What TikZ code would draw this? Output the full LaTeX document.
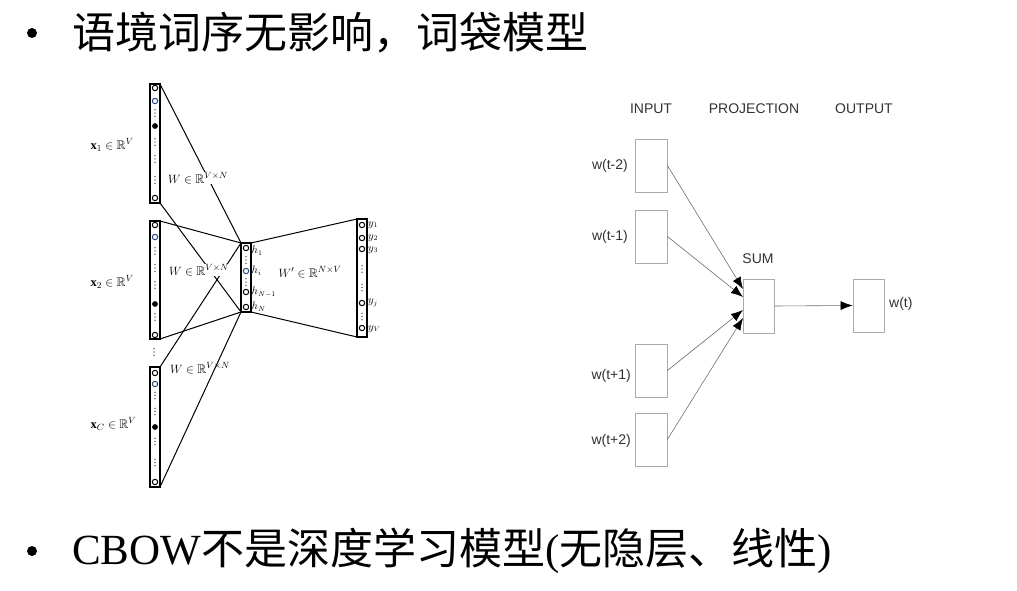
\documentclass[tikz,border=0pt]{standalone}
\usepackage{amsmath,amssymb}
\usepackage{fontspec}
\setmainfont{Liberation Serif}
\newfontfamily\cjk{Noto Sans CJK SC}
\newfontfamily\arialf{Liberation Sans}
\usetikzlibrary{arrows.meta}
\definecolor{nblue}{RGB}{40,70,130}
\definecolor{boxgray}{RGB}{170,170,170}
\definecolor{linegray}{RGB}{110,110,110}
\definecolor{txtgray}{RGB}{50,50,50}
\newcommand{\mydots}[2]{\fill (#1,#2-3.3) circle (0.65) (#1,#2) circle (0.65) (#1,#2+3.3) circle (0.65);}
\tikzset{
  col/.style={draw=black, line width=1.4pt, minimum width=10pt, inner sep=0pt, outer sep=0pt},
  mlab/.style={font=\fontsize{12.5}{14}\selectfont, inner sep=0.5pt},
  slab/.style={font=\fontsize{10.5}{12}\selectfont, inner sep=0pt, anchor=west},
  conn/.style={line width=1pt, black},
  wbox/.style={draw=boxgray, line width=0.8pt, minimum width=32pt, minimum height=53pt, inner sep=0pt},
  rtxt/.style={font=\arialf\fontsize{14}{16}\selectfont, text=txtgray, inner sep=0pt},
  garr/.style={draw=linegray, line width=0.6pt, -{Latex[length=12pt,width=9pt,color=black]}},
  big/.style={font=\fontsize{43}{50}\selectfont, inner sep=0pt, anchor=west}
}
\begin{document}
\begin{tikzpicture}[x=1pt,y=-1pt]
\useasboundingbox (0,0) rectangle (1017,591);
% title
\fill (32,33) circle (5);
\node[big] (title) at (72,33) {\cjk 语境词序无影响，词袋模型};
\fill (32,551) circle (5);
\node[big] (bottom) at (72,551) {CBOW{\cjk 不是深度学习模型}({\cjk 无隐层、线性})};

% ---------- left diagram ----------
\node[col, minimum height=119pt] (x1) at (155,143.5) {};
\node[col, minimum height=118pt] (x2) at (155,280) {};
\node[col, minimum height=120pt] (xC) at (155,427) {};
\node[col, minimum height=69pt] (h) at (246,277.5) {};
\node[col, minimum height=118pt] (y) at (362,278) {};

\draw[conn] (x1.north east) -- (h.north west);
\draw[conn] (x1.south east) -- (h.south west);
\draw[conn] (x2.north east) -- (h.north west);
\draw[conn] (x2.south east) -- (h.south west);
\draw[conn] (xC.north east) -- (h.north west);
\draw[conn] (xC.south east) -- (h.south west);
\draw[conn] (h.north east) -- (y.north west);
\draw[conn] (h.south east) -- (y.south west);

\begin{scope}[line width=1pt]
% x1
\draw (155,88) circle (2.7);
\draw[nblue] (155,101) circle (2.7);
\fill (155,126) circle (2.9);
\draw (155,198) circle (2.7);
\mydots{155}{113}\mydots{155}{142}\mydots{155}{159}\mydots{155}{180}
% x2
\draw (155,225) circle (2.7);
\draw[nblue] (155,237) circle (2.7);
\fill (155,304) circle (2.9);
\draw (155,335) circle (2.7);
\mydots{155}{251}\mydots{155}{268}\mydots{155}{285}\mydots{155}{317}
% xC
\draw (155,373) circle (2.7);
\draw[nblue] (155,384) circle (2.7);
\fill (155,427) circle (2.9);
\draw (155,482) circle (2.7);
\mydots{155}{395.5}\mydots{155}{411.5}\mydots{155}{441.5}\mydots{155}{462.5}
% between x2 and xC
\mydots{154}{352}
% hidden
\draw (246,248) circle (2.7);
\draw[nblue] (246,271) circle (2.7);
\draw (246,292) circle (2.7);
\draw (246,307) circle (2.7);
\mydots{246}{260}\mydots{246}{282}
% output
\draw (362,225) circle (2.7);
\draw (362,238) circle (2.7);
\draw (362,249) circle (2.7);
\draw (362,303) circle (2.7);
\draw (362,328) circle (2.7);
\mydots{362}{269}\mydots{362}{287.5}\mydots{362}{316.5}
\end{scope}

% labels
\node[mlab, anchor=west] (lx1) at (90,145) {$\mathbf{x}_1\in\mathbb{R}^V$};
\node[mlab, anchor=west] (lx2) at (90,282) {$\mathbf{x}_2\in\mathbb{R}^V$};
\node[mlab, anchor=west] (lxC) at (90,424) {$\mathbf{x}_C\in\mathbb{R}^V$};
\node[mlab, fill=white] (w1) at (198,178) {$W\in\mathbb{R}^{V\times N}$};
\node[mlab, fill=white] (w2) at (199,270) {$W\in\mathbb{R}^{V\times N}$};
\node[mlab] (w3) at (200,368) {$W\in\mathbb{R}^{V\times N}$};
\node[mlab] (wp) at (310,272) {$W'\in\mathbb{R}^{N\times V}$};
\node[slab] (h1) at (251.5,251) {$h_1$};
\node[slab] (hi) at (251.5,271) {$h_i$};
\node[slab] (hN1) at (251.5,292) {$h_{N-1}$};
\node[slab] (hN) at (251.5,307) {$h_N$};
\node[slab] (y1) at (368,225) {$y_1$};
\node[slab] (y2) at (368,238) {$y_2$};
\node[slab] (y3) at (368,250) {$y_3$};
\node[slab] (yj) at (368,303) {$y_j$};
\node[slab] (yV) at (368,329) {$y_V$};

% ---------- right diagram ----------
\node[rtxt] (hin) at (651,109) {INPUT};
\node[rtxt] (hproj) at (754,109) {PROJECTION};
\node[rtxt] (hout) at (864,109) {OUTPUT};

\node[wbox] (in1) at (651,165.5) {};
\node[wbox] (in2) at (651,236.5) {};
\node[wbox] (in3) at (651,370.5) {};
\node[wbox] (in4) at (651,439.5) {};
\node[wbox, minimum width=31pt, minimum height=54pt] (sum) at (758.5,306) {};
\node[wbox, minimum width=31pt] (out) at (868.5,305.5) {};

\node[rtxt, anchor=east] (l1) at (628,166) {w(t-2)};
\node[rtxt, anchor=east] (l2) at (628,237) {w(t-1)};
\node[rtxt, anchor=east] (l3) at (631,376) {w(t+1)};
\node[rtxt, anchor=east] (l4) at (631,441) {w(t+2)};
\node[rtxt] (lsum) at (758,259) {SUM};
\node[rtxt, anchor=west] (lout) at (889,304) {w(t)};

\coordinate (s1) at (743,289);
\coordinate (s2) at (743,297);
\coordinate (s3) at (743,310);
\coordinate (s4) at (743,318);
\draw[garr] (in1.east) -- (s1);
\draw[garr] (in2.east) -- (s2);
\draw[garr] (in3.east) -- (s3);
\draw[garr] (in4.east) -- (s4);
\draw[garr] (sum.east) -- (out.west);
\end{tikzpicture}
\end{document}
